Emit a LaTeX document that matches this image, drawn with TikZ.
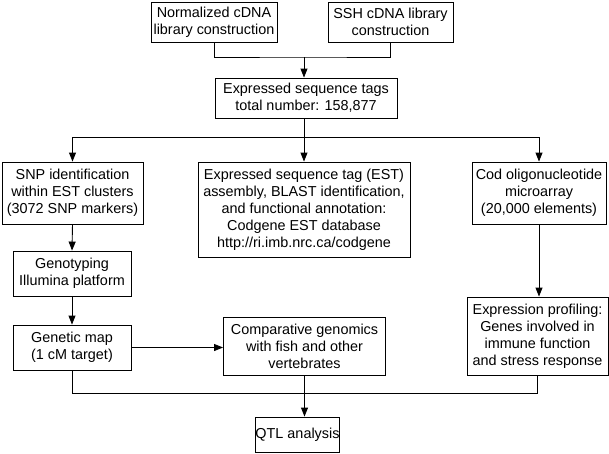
\documentclass[tikz,border=0pt]{standalone}
\usepackage{fontspec}
\setmainfont{Liberation Sans}
\usetikzlibrary{arrows.meta}
\tikzset{box/.style={draw, inner sep=0pt, align=center, font=\fontsize{14.4}{17}\selectfont}}

\begin{document}
\begin{tikzpicture}[x=1pt, y=-1pt, line width=0.9pt, >={Triangle[length=9pt,width=7pt]}]
\useasboundingbox (0,0) rectangle (609,453);

% libraries
\node [box, minimum width=126pt, minimum height=40pt] (norm) at (214,22) {Normalized cDNA\\library construction};
\node [box, minimum width=125pt, minimum height=40pt] (ssh) at (390.5,22) {SSH cDNA library\\construction};
\node [box, minimum width=182pt, minimum height=40pt] (est) at (306,98) {Expressed sequence tags\\total number: 158,877};

% three branches
\node [box, minimum width=141pt, minimum height=62pt] (snp) at (72.5,193) {SNP identification\\within EST clusters\\(3072 SNP markers)};
\node [box, minimum width=212pt, minimum height=95pt] (asm) at (304,209.5) {Expressed sequence tag (EST)\\assembly, BLAST identification,\\and functional annotation:\\Codgene EST database\\http://ri.imb.nrc.ca/codgene};
\node [box, minimum width=134pt, minimum height=62pt] (cod) at (539,193) {Cod oligonucleotide\\microarray\\(20,000 elements)};

\node [box, minimum width=118pt, minimum height=45pt] (geno) at (72,273.5) {Genotyping\\Illumina platform};
\node [box, minimum width=118pt, minimum height=45pt] (gmap) at (72,347.5) {Genetic map\\(1 cM target)};
\node [box, minimum width=162pt, minimum height=58pt] (comp) at (304.5,346) {Comparative genomics\\with fish and other\\vertebrates};
\node [box, minimum width=141pt, minimum height=78pt] (expr) at (537.5,336) {Expression profiling:\\Genes involved in\\immune function\\and stress response};
\node [box, minimum width=83pt, minimum height=35pt] (qtl) at (297.5,434.5) {QTL analysis};

\coordinate (top) at (304,57);
\draw (norm.south) |- (top) -| (ssh.south);
\draw [->] (top) -- (top |- est.north);

\coordinate (split) at (304,137);
\draw (split |- est.south) -- (split);
\draw (snp.north |- split) -- (cod.north |- split);
\foreach \n in {snp, asm, cod}
        \draw [->] (\n.north |- split) -- (\n.north);

\draw [->] (snp.south) -- (geno.north);
\draw [->] (geno.south) -- (gmap.north);
\draw [->] (gmap.east) -- (gmap.east -| comp.west);
\draw [->] (cod.south) -- (cod.south |- expr.north);

\coordinate (join) at (304,393);
\draw (gmap.south) |- (join) -| (expr.south);
\draw [->] (comp.south) -- (comp.south |- qtl.north);
\end{tikzpicture}
\end{document}
